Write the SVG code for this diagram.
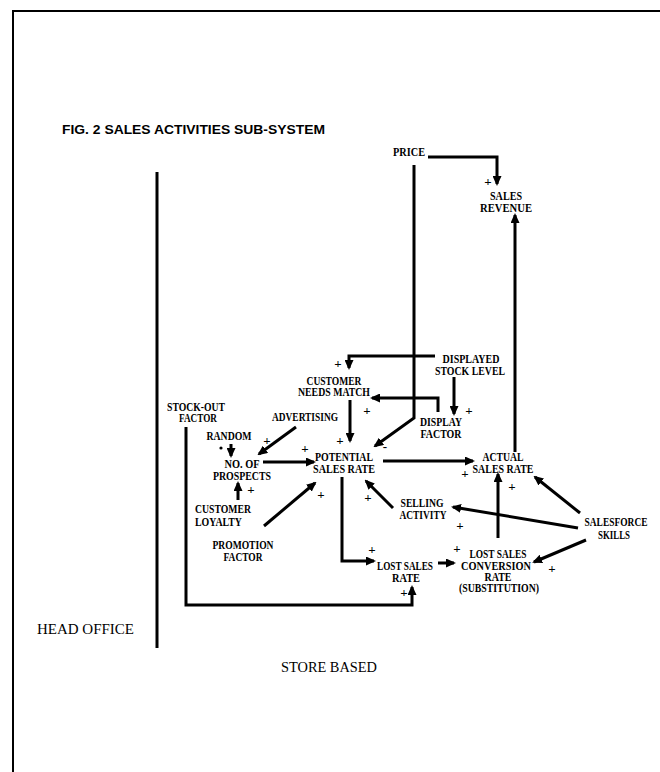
<svg xmlns="http://www.w3.org/2000/svg" width="660" height="772" viewBox="0 0 660 772">
<defs>
<style>
.lbl{font-family:"Liberation Serif","Times New Roman",serif;font-weight:bold;font-size:11.5px;fill:#000;text-anchor:middle}
.pl{font-family:"Liberation Serif","Times New Roman",serif;font-weight:bold;font-size:13px;fill:#000;text-anchor:middle}
.reg{font-family:"Liberation Serif","Times New Roman",serif;font-size:14.5px;fill:#000}
.ttl{font-family:"Liberation Sans",Arial,sans-serif;font-weight:bold;font-size:12.5px;fill:#000}
.c{fill:none;stroke:#000;stroke-width:3;marker-end:url(#ah)}
.frame{fill:none;stroke:#000;stroke-width:2}
</style>
<marker id="ah" markerUnits="userSpaceOnUse" markerWidth="10" markerHeight="9" refX="8" refY="4.5" orient="auto">
<path d="M0,0 L10,4.5 L0,9 z" fill="#000"/>
</marker>
</defs>
<rect width="660" height="772" fill="#fff"/>
<path class="frame" d="M13,772 V11 H660"/>
<text class="ttl" x="62" y="134" textLength="263" lengthAdjust="spacingAndGlyphs">FIG. 2 SALES ACTIVITIES SUB-SYSTEM</text>
<line x1="157" y1="172" x2="157" y2="648" stroke="#000" stroke-width="3"/>
<text class="reg" x="37" y="634" textLength="97" lengthAdjust="spacingAndGlyphs">HEAD OFFICE</text>
<text class="reg" x="281" y="672" textLength="96" lengthAdjust="spacingAndGlyphs">STORE BASED</text>

<g id="connectors">
<path class="c" d="M428,157 H497 V184"/>
<path class="c" d="M515,452 V215"/>
<path class="c" d="M414,165 V418 L375,446"/>
<path class="c" d="M435,356 H349 V368"/>
<path class="c" d="M454,377 V414"/>
<path class="c" d="M438,412 V398 H372"/>
<path class="c" d="M350,400 V441"/>
<path class="c" d="M296,427 L259,454"/>
<path class="c" d="M231,444 V456"/>
<path class="c" d="M263,462 H314"/>
<path class="c" d="M238,500 V483"/>
<path class="c" d="M264,526 L315,483"/>
<path class="c" d="M342,477 V561 H374"/>
<path class="c" d="M383,461 H473"/>
<path class="c" d="M498,538 V474"/>
<path class="c" d="M580,513 L535,477"/>
<path class="c" d="M393,508 L366,481"/>
<path class="c" d="M578,528 L453,507"/>
<path class="c" d="M586,540 L534,562"/>
<path class="c" d="M438,563 H454"/>
<path class="c" d="M186,427 V605 H412 V587"/>
<g class="pl">
<text x="488" y="186">+</text>
<text x="385" y="451">-</text>
<text x="338" y="368">+</text>
<text x="469" y="415">+</text>
<text x="367" y="415">+</text>
<text x="340" y="445">+</text>
<text x="267" y="445">+</text>
<text x="305" y="453">+</text>
<text x="251" y="494">+</text>
<text x="321" y="499">+</text>
<text x="372" y="554">+</text>
<text x="465" y="478">+</text>
<text x="512" y="491">+</text>
<text x="368" y="502">+</text>
<text x="460" y="530">+</text>
<text x="552" y="573">+</text>
<text x="457" y="553">+</text>
<text x="404" y="597">+</text>
</g>
<circle cx="221" cy="448" r="1.6" fill="#000"/>
</g>

<g id="price"><text class="lbl" x="409" y="156" textLength="32" lengthAdjust="spacingAndGlyphs">PRICE</text></g>
<g id="sales-revenue">
<text class="lbl" x="506" y="200" textLength="32" lengthAdjust="spacingAndGlyphs">SALES</text>
<text class="lbl" x="506" y="212" textLength="52" lengthAdjust="spacingAndGlyphs">REVENUE</text>
</g>
<g id="displayed-stock-level">
<text class="lbl" x="471" y="363" textLength="57" lengthAdjust="spacingAndGlyphs">DISPLAYED</text>
<text class="lbl" x="470" y="375" textLength="70" lengthAdjust="spacingAndGlyphs">STOCK LEVEL</text>
</g>
<g id="customer-needs-match">
<text class="lbl" x="334" y="385" textLength="55" lengthAdjust="spacingAndGlyphs">CUSTOMER</text>
<text class="lbl" x="334" y="396" textLength="72" lengthAdjust="spacingAndGlyphs">NEEDS MATCH</text>
</g>
<g id="stock-out-factor">
<text class="lbl" x="196" y="411" textLength="58" lengthAdjust="spacingAndGlyphs">STOCK-OUT</text>
<text class="lbl" x="198" y="422" textLength="38" lengthAdjust="spacingAndGlyphs">FACTOR</text>
</g>
<g id="advertising"><text class="lbl" x="305" y="421" textLength="66" lengthAdjust="spacingAndGlyphs">ADVERTISING</text></g>
<g id="display-factor">
<text class="lbl" x="441" y="426" textLength="42" lengthAdjust="spacingAndGlyphs">DISPLAY</text>
<text class="lbl" x="441" y="438" textLength="41" lengthAdjust="spacingAndGlyphs">FACTOR</text>
</g>
<g id="random"><text class="lbl" x="229" y="440" textLength="45" lengthAdjust="spacingAndGlyphs">RANDOM</text></g>
<g id="no-of-prospects">
<text class="lbl" x="242" y="468" textLength="35" lengthAdjust="spacingAndGlyphs">NO. OF</text>
<text class="lbl" x="242" y="480" textLength="58" lengthAdjust="spacingAndGlyphs">PROSPECTS</text>
</g>
<g id="potential-sales-rate">
<text class="lbl" x="344" y="461" textLength="58" lengthAdjust="spacingAndGlyphs">POTENTIAL</text>
<text class="lbl" x="344" y="473" textLength="62" lengthAdjust="spacingAndGlyphs">SALES RATE</text>
</g>
<g id="actual-sales-rate">
<text class="lbl" x="503" y="461" textLength="41" lengthAdjust="spacingAndGlyphs">ACTUAL</text>
<text class="lbl" x="503" y="473" textLength="61" lengthAdjust="spacingAndGlyphs">SALES RATE</text>
</g>
<g id="selling-activity">
<text class="lbl" x="422" y="507" textLength="43" lengthAdjust="spacingAndGlyphs">SELLING</text>
<text class="lbl" x="423" y="519" textLength="47" lengthAdjust="spacingAndGlyphs">ACTIVITY</text>
</g>
<g id="customer-loyalty">
<text class="lbl" x="223" y="513" textLength="56" lengthAdjust="spacingAndGlyphs">CUSTOMER</text>
<text class="lbl" x="218.5" y="526" textLength="47" lengthAdjust="spacingAndGlyphs">LOYALTY</text>
</g>
<g id="salesforce-skills">
<text class="lbl" x="616" y="526" textLength="63" lengthAdjust="spacingAndGlyphs">SALESFORCE</text>
<text class="lbl" x="614" y="539" textLength="32" lengthAdjust="spacingAndGlyphs">SKILLS</text>
</g>
<g id="promotion-factor">
<text class="lbl" x="243" y="549" textLength="61" lengthAdjust="spacingAndGlyphs">PROMOTION</text>
<text class="lbl" x="243" y="561" textLength="39" lengthAdjust="spacingAndGlyphs">FACTOR</text>
</g>
<g id="lost-sales-rate">
<text class="lbl" x="405" y="570" textLength="56" lengthAdjust="spacingAndGlyphs">LOST SALES</text>
<text class="lbl" x="406" y="582" textLength="28" lengthAdjust="spacingAndGlyphs">RATE</text>
</g>
<g id="lost-sales-conversion-rate">
<text class="lbl" x="498" y="558" textLength="57" lengthAdjust="spacingAndGlyphs">LOST SALES</text>
<text class="lbl" x="496" y="570" textLength="70" lengthAdjust="spacingAndGlyphs">CONVERSION</text>
<text class="lbl" x="498" y="581" textLength="27" lengthAdjust="spacingAndGlyphs">RATE</text>
<text class="lbl" x="499" y="592" textLength="80" lengthAdjust="spacingAndGlyphs">(SUBSTITUTION)</text>
</g>
</svg>
